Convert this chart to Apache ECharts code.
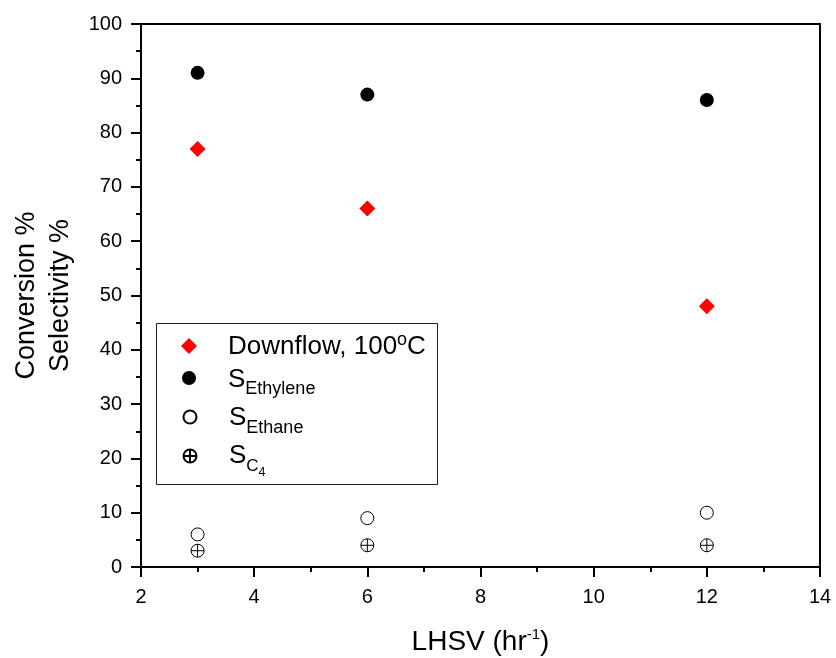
<!DOCTYPE html>
<html>
<head>
<meta charset="utf-8">
<script src="https://cdn.jsdelivr.net/npm/echarts@6/dist/echarts.min.js"></script>
<style>
  html, body { margin: 0; padding: 0; background: #fff; }
  #chart { width: 836px; height: 658px; }
</style>
</head>
<body>
<div id="chart"></div>
<script>
// LHSV values (hr^-1)
const lhsv = [3, 6, 12];
// Conversion % for downflow at 100 °C
const downflow = [77, 66, 48];
// Selectivities %
const sEthylene = [91, 87, 86];
const sEthane = [6, 9, 10];
const sC4 = [3, 4, 4];

const FONT = "'Liberation Sans', Arial, Helvetica, sans-serif";
const crossCircle = 'path://M12,2A10,10,0,1,1,12,22A10,10,0,1,1,12,2ZM2,12L22,12M12,2L12,22';

const pairs = ys => lhsv.map((x, i) => [x, ys[i]]);

// rich-text token: hangs from the line top, pushed down by padTop
// (line box stays 30 px tall for every row)
function tok(size, padTop) {
  return {
    fontFamily: FONT, fontSize: size, lineHeight: 30, color: '#000',
    verticalAlign: 'top', padding: [padTop, 0, 0, 0]
  };
}

// one legend per row so each row sits at its own height
function legendRow(name, size, centerY, formatter, rich) {
  return {
    data: [name],
    selectedMode: false,
    left: 189 - size / 2,
    top: centerY - 15,
    padding: 0,
    itemWidth: size,
    itemHeight: size,
    formatter: formatter,
    textStyle: {
      fontFamily: FONT,
      color: '#000',
      fontSize: 26,
      lineHeight: 30,
      padding: [0, 0, 0, 34 - size / 2],
      rich: rich
    }
  };
}

const option = {
  animation: false,
  backgroundColor: '#fff',
  grid: {
    left: 141, top: 24, right: 16, bottom: 91,
    outerBoundsMode: 'none',
    containLabel: false,
    show: true, borderColor: '#000', borderWidth: 2
  },
  xAxis: {
    type: 'value', min: 2, max: 14, interval: 2,
    name: '{m|LHSV (hr}{sup|-1}{m|)}',
    nameLocation: 'middle', nameGap: 60,
    nameTextStyle: {
      fontFamily: FONT, fontSize: 28, color: '#000', lineHeight: 30,
      rich: { m: tok(28, 1), sup: tok(15, 0) }
    },
    axisLine: { lineStyle: { color: '#000', width: 2 } },
    axisTick: { length: 10, lineStyle: { color: '#000', width: 2 } },
    minorTick: { show: true, splitNumber: 2, length: 5, lineStyle: { color: '#000', width: 2 } },
    axisLabel: { fontFamily: FONT, fontSize: 20, color: '#000', margin: 20 },
    splitLine: { show: false }
  },
  yAxis: {
    type: 'value', min: 0, max: 100, interval: 10,
    name: 'Conversion %\nSelectivity %',
    nameLocation: 'middle', nameGap: 59,
    nameTextStyle: { fontFamily: FONT, fontSize: 27, color: '#000', lineHeight: 34 },
    axisLine: { lineStyle: { color: '#000', width: 2 } },
    axisTick: { length: 10, lineStyle: { color: '#000', width: 2 } },
    minorTick: { show: true, splitNumber: 2, length: 5, lineStyle: { color: '#000', width: 2 } },
    axisLabel: { fontFamily: FONT, fontSize: 20, color: '#000', margin: 19 },
    splitLine: { show: false }
  },
  legend: [
    legendRow('Downflow', 16, 346, '{m|Downflow, 100}{sup|o}{m|C}', {
      m: tok(26, 3), sup: tok(18, 0.5)
    }),
    legendRow('Ethylene', 14, 378, '{m|S}{s|Ethylene}', {
      m: tok(26, 4), s: tok(18, 17)
    }),
    legendRow('Ethane', 13, 417, '{m|S}{s|Ethane}', {
      m: tok(26, 3), s: tok(18, 17)
    }),
    legendRow('C4', 13, 456, '{m|S}{c|C}{n|4}', {
      m: tok(26, 2), c: tok(17, 16.5), n: tok(12.5, 25)
    })
  ],
  graphic: [{
    type: 'rect',
    left: 154, top: 321,
    shape: { width: 281, height: 161 },
    style: { fill: 'none', stroke: '#222', lineWidth: 1 },
    z: 10
  }],
  series: [
    {
      name: 'Downflow', type: 'scatter', symbol: 'diamond', symbolSize: 16,
      itemStyle: { color: '#ff0000', opacity: 1 },
      data: pairs(downflow)
    },
    {
      name: 'Ethylene', type: 'scatter', symbol: 'circle', symbolSize: 14,
      itemStyle: { color: '#000', opacity: 1 },
      data: pairs(sEthylene)
    },
    {
      name: 'Ethane', type: 'scatter', symbol: 'circle', symbolSize: 13,
      itemStyle: { color: '#fff', borderColor: '#000', borderWidth: 1, opacity: 1 },
      data: pairs(sEthane)
    },
    {
      name: 'C4', type: 'scatter', symbol: crossCircle, symbolSize: 13,
      itemStyle: { color: '#fff', borderColor: '#000', borderWidth: 1, opacity: 1 },
      data: pairs(sC4)
    }
  ]
};

const chart = echarts.init(document.getElementById('chart'), null, { renderer: 'canvas' });
chart.setOption(option);
</script>
</body>
</html>
